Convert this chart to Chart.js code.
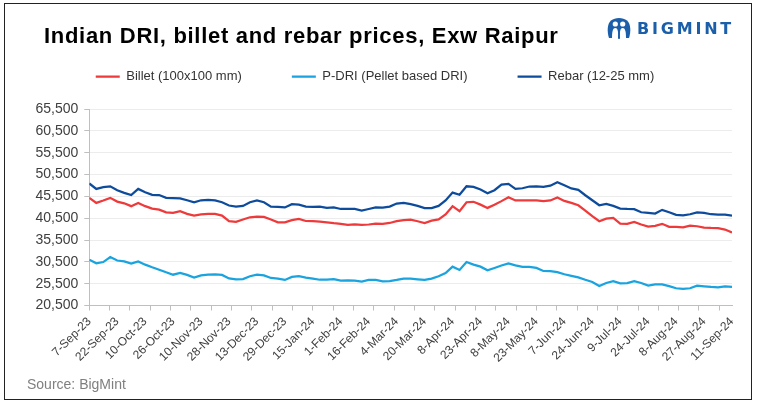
<!DOCTYPE html>
<html>
<head>
<meta charset="utf-8">
<script src="https://cdn.jsdelivr.net/npm/chart.js@4.4.1/dist/chart.umd.min.js"></script>
<style>
  html, body { margin: 0; padding: 0; background: #fff; }
  #wrap { position: relative; width: 757px; height: 406px; overflow: hidden; font-family: "Liberation Sans", Arial, sans-serif; }
  #frame { position: absolute; left: 4px; top: 3px; width: 746px; height: 395px; border: 1px solid #222; }
  #title { position: absolute; left: 44px; top: 25px; font-size: 22px; line-height: 22px; font-weight: bold; letter-spacing: 0.7px; color: #000; white-space: nowrap; }
  #logo { position: absolute; left: 607px; top: 16px; }
  #logoText { position: absolute; left: 637px; top: 21px; font-family: "DejaVu Sans", sans-serif; font-weight: bold; font-size: 16px; line-height: 16px; letter-spacing: 2.8px; color: #1b5faa; }
  #source { position: absolute; left: 27px; top: 377px; font-size: 14px; line-height: 14px; color: #7f7f7f; }
  canvas { position: absolute; left: 0; top: 0; }
</style>
</head>
<body>
<div id="wrap">
  <canvas id="priceChart" width="757" height="406"></canvas>
  <div id="frame"></div>
  <div id="title">Indian DRI, billet and rebar prices, Exw Raipur</div>
  <svg id="logo" width="24" height="25" viewBox="0 0 24 25">
    <path d="M2 22 C0 16 0 8 4 4.5 C8 1 16 1 20 4.5 C24 8 24 16 22 22 Z" fill="#1b5faa"/>
    <circle cx="8.3" cy="8" r="2.6" fill="#fff"/>
    <circle cx="15.7" cy="8" r="2.6" fill="#fff"/>
    <path d="M5 22 C5 15 6 12 8.3 12 C10.6 12 11.5 15 11 22 Z" fill="#fff"/>
    <path d="M13 22 C12.5 15 13.4 12 15.7 12 C18 12 19 15 19 22 Z" fill="#fff"/>
    <rect x="11.2" y="14" width="1.6" height="9" fill="#1b5faa"/>
  </svg>
  <div id="logoText">BIGMINT</div>
  <div id="source">Source: BigMint</div>
</div>
<script>
// tick labels, one every 11 trading days
const dateLabels = ['7-Sep-23', '22-Sep-23', '10-Oct-23', '26-Oct-23', '10-Nov-23', '28-Nov-23',
  '13-Dec-23', '29-Dec-23', '15-Jan-24', '1-Feb-24', '16-Feb-24', '4-Mar-24', '20-Mar-24',
  '8-Apr-24', '23-Apr-24', '8-May-24', '23-May-24', '7-Jun-24', '24-Jun-24', '9-Jul-24',
  '24-Jul-24', '8-Aug-24', '27-Aug-24', '11-Sep-24'];

const priceTicks = [20500, 25500, 30500, 35500, 40500, 45500, 50500, 55500, 60500, 65500];

const LABEL_EVERY = 11;   // trading days between date labels
const TICK_EVERY = 8;     // trading days between axis tick marks
const READING_STEP = 2.75; // trading days between the readings below
const LAST_DAY = (dateLabels.length - 1) * LABEL_EVERY;

// INR/t
const billet = [45150, 44000, 44550, 45150, 44300, 43900, 43250, 44000, 43250, 42700,
  42450, 41850, 41700, 42100, 41500, 41100, 41350, 41500, 41500, 41100,
  39800, 39650, 40200, 40700, 40850, 40800, 40200, 39550, 39550, 40050,
  40350, 39850, 39800, 39700, 39550, 39350, 39200, 38950, 39050, 38950,
  39050, 39250, 39200, 39400, 39800, 40050, 40150, 39800, 39400, 39950,
  40200, 41350, 43250, 42100, 44150, 44250, 43600, 42850, 43550, 44400,
  45300, 44550, 44550, 44600, 44550, 44400, 44550, 45250, 44450, 44000,
  43450, 42250, 40950, 39800, 40400, 40550, 39250, 39200, 39650, 39050,
  38550, 38750, 39200, 38500, 38500, 38400, 38800, 38650, 38350, 38250,
  38200, 37900, 37200];

const pdri = [31000, 30150, 30450, 31600, 30800, 30600, 30100, 30600, 29850, 29250,
  28700, 28100, 27550, 27950, 27500, 26900, 27400, 27550, 27650, 27500,
  26700, 26500, 26550, 27200, 27550, 27400, 26800, 26650, 26350, 27050,
  27200, 26900, 26650, 26400, 26400, 26550, 26200, 26250, 26200, 25950,
  26350, 26350, 26050, 26100, 26350, 26650, 26650, 26500, 26350, 26650,
  27200, 27950, 29400, 28650, 30450, 29850, 29400, 28550, 29100, 29650,
  30150, 29700, 29350, 29350, 29100, 28400, 28350, 28150, 27650, 27300,
  26950, 26400, 25900, 24950, 25650, 26050, 25550, 25650, 26050, 25650,
  25050, 25350, 25350, 24950, 24450, 24300, 24450, 25050, 24900, 24750,
  24650, 24900, 24750];

const rebar = [48450, 47200, 47600, 47800, 46900, 46300, 45800, 47200, 46450, 45850,
  45800, 45150, 45100, 45050, 44600, 44150, 44600, 44700, 44550, 44150,
  43400, 43150, 43300, 44150, 44550, 44150, 43150, 43100, 42950, 43700,
  43600, 43150, 43100, 43150, 42850, 42950, 42600, 42600, 42600, 42250,
  42600, 42950, 42900, 43150, 43850, 44000, 43700, 43300, 42800, 42800,
  43300, 44550, 46350, 45850, 47800, 47650, 47050, 46200, 46900, 48200,
  48350, 47200, 47350, 47750, 47800, 47650, 47950, 48750, 48050, 47300,
  47000, 45750, 44600, 43450, 43750, 43300, 42700, 42600, 42550, 41850,
  41700, 41550, 42400, 41850, 41250, 41150, 41400, 41800, 41700, 41400,
  41300, 41300, 41100];

function toPoints(values) {
  return values.map((v, i) => ({ x: i * READING_STEP, y: v }));
}

// x positions that get either a date label or a tick mark
function xTickPositions() {
  const set = new Set();
  for (let d = 0; d <= LAST_DAY; d += LABEL_EVERY) set.add(d);
  for (let d = 0; d <= LAST_DAY; d += TICK_EVERY) set.add(d);
  return Array.from(set).sort((a, b) => a - b);
}

// stretch the legend box so the plot starts where the reference has it
const legendHeight = {
  id: 'legendHeight',
  beforeInit(chart) {
    if (!chart.legend) return;
    const fit = chart.legend.fit;
    chart.legend.fit = function () {
      fit.call(this);
      this.height = 89;
    };
  }
};

const axisFont = { family: '"Liberation Sans", Arial, sans-serif' };

const ctx = document.getElementById('priceChart').getContext('2d');
new Chart(ctx, {
  type: 'line',
  data: {
    datasets: [{
      label: 'Billet (100x100 mm)',
      data: toPoints(billet),
      borderColor: '#ee3a3a',
      backgroundColor: '#ee3a3a'
    }, {
      label: 'P-DRI (Pellet based DRI)',
      data: toPoints(pdri),
      borderColor: '#19a3df',
      backgroundColor: '#19a3df'
    }, {
      label: 'Rebar (12-25 mm)',
      data: toPoints(rebar),
      borderColor: '#0d4c9c',
      backgroundColor: '#0d4c9c'
    }]
  },
  options: {
    responsive: false,
    animation: false,
    layout: { padding: { left: 18, right: 25, top: 20, bottom: 0 } },
    elements: {
      point: { radius: 0 },
      line: { tension: 0, borderWidth: 2.25 }
    },
    plugins: {
      tooltip: { enabled: false },
      legend: {
        position: 'top',
        labels: {
          boxWidth: 24,
          boxHeight: 0,
          padding: 50,
          color: '#333',
          font: { family: axisFont.family, size: 13 }
        }
      }
    },
    scales: {
      x: {
        type: 'linear',
        min: 0,
        max: LAST_DAY,
        afterBuildTicks: scale => {
          scale.ticks = xTickPositions().map(v => ({ value: v }));
        },
        afterFit: scale => { scale.height = 100.5; },
        grid: {
          drawOnChartArea: false,
          drawTicks: true,
          tickLength: 5,
          tickColor: c => (c.tick && c.tick.value % TICK_EVERY === 0) ? '#bfbfbf' : 'rgba(0,0,0,0)'
        },
        border: { color: '#bfbfbf' },
        ticks: {
          autoSkip: false,
          minRotation: 45,
          maxRotation: 45,
          padding: 4,
          color: '#404040',
          font: { family: axisFont.family, size: 12 },
          callback: value => value % LABEL_EVERY === 0 ? dateLabels[value / LABEL_EVERY] : ''
        }
      },
      y: {
        min: priceTicks[0],
        max: priceTicks[priceTicks.length - 1],
        afterBuildTicks: scale => {
          scale.ticks = priceTicks.map(v => ({ value: v }));
        },
        afterFit: scale => { scale.width = 71.3; },
        grid: {
          color: '#ececec',
          tickColor: '#bfbfbf',
          tickLength: 5
        },
        border: { color: '#bfbfbf' },
        ticks: {
          padding: 6,
          color: '#404040',
          font: { family: axisFont.family, size: 14 },
          callback: v => v.toLocaleString('en-US')
        }
      }
    }
  },
  plugins: [legendHeight]
});
</script>
</body>
</html>
